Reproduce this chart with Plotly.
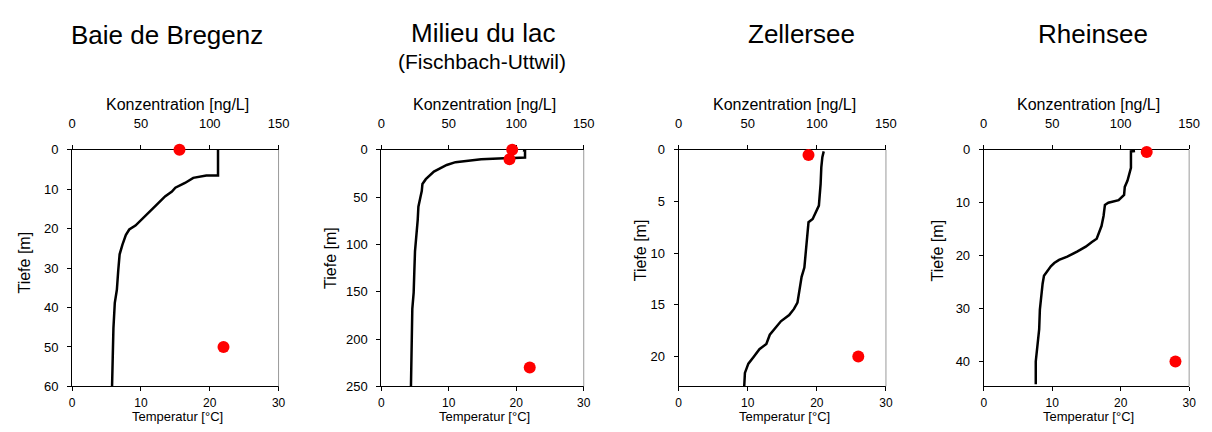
import plotly.graph_objects as go

# ---------------- data ----------------
panel_titles = ["Baie de Bregenz", "Milieu du lac", "Zellersee", "Rheinsee"]
subtitle_milieu = "(Fischbach-Uttwil)"

# temperature profiles (bottom axis, °C) vs depth (m)
bregenz_depth = [0, 6.5, 6.5, 7.1, 8.4, 9.6, 10.6, 11.8, 13.9, 15.9, 17.1, 19.2, 20.2, 21.6,
                 24.1, 26.5, 30.6, 35.5, 38.8, 45.3, 52.7, 60]
bregenz_temp = [21.2, 21.2, 19.5, 17.6, 16.4, 15.0, 14.5, 13.5, 12.3, 11.1, 10.4, 9.2, 8.3, 7.8,
                7.3, 6.9, 6.7, 6.5, 6.2, 6.0, 5.9, 5.8]

milieu_depth = [0.5, 1, 8, 9, 10, 13, 16, 23, 31, 36, 43.5, 50, 60, 74, 87, 107, 128, 151,
                168, 202, 250]
milieu_temp = [21.0, 21.3, 21.3, 18.3, 14.8, 11.0, 9.7, 7.8, 6.6, 6.1, 6.0, 5.8, 5.5, 5.4,
               5.2, 5.0, 4.9, 4.8, 4.6, 4.5, 4.4]

zeller_depth = [0.15, 0.7, 1.7, 3.3, 5.4, 6.1, 6.7, 7.0, 8.6, 9.8, 11.4, 12.3, 13.5, 14.8,
                15.4, 16.0, 16.6, 17.3, 17.9, 18.8, 19.3, 20.1, 20.7, 21.6, 22.9]
zeller_temp = [21.0, 20.8, 20.65, 20.55, 20.3, 19.8, 19.4, 18.8, 18.6, 18.4, 18.2, 17.8,
               17.5, 17.2, 16.7, 16.0, 14.8, 13.9, 13.2, 12.7, 11.7, 10.8, 10.1, 9.6, 9.5]

rhein_depth = [0.2, 0.3, 3.4, 4.6, 5.8, 7.0, 8.5, 9.5, 10.0, 10.4, 12.5, 14.4, 15.6, 16.8,
               17.4, 18.3, 19.2, 20.2, 20.8, 21.4, 22.0, 22.9, 23.8, 25.3, 27.8, 30.2, 33.9,
               36.3, 40, 44.3]
rhein_temp = [22.1, 21.5, 21.5, 21.3, 21.0, 20.6, 20.5, 19.7, 18.2, 17.7, 17.5, 17.2, 16.8,
              16.5, 15.8, 14.9, 13.7, 12.2, 11.0, 10.3, 9.8, 9.3, 8.8, 8.6, 8.4, 8.2, 8.1,
              7.9, 7.6, 7.6]

# concentrations (top axis, ng/L) vs sampling depth (m)
bregenz_conc_depth = [0, 50]
bregenz_conc = [78, 110]
milieu_conc_depth = [0, 10, 230]
milieu_conc = [97, 95, 110]
zeller_conc_depth = [0.5, 20]
zeller_conc = [94, 130]
rhein_conc_depth = [0.4, 40]
rhein_conc = [119, 140]

depth_max = [60, 250, 22.9, 44.7]
depth_ticks = [10, 50, 5, 10]
temp_ticks = [0, 10, 20, 30]
conc_ticks = [0, 50, 100, 150]

temps = [(bregenz_depth, bregenz_temp), (milieu_depth, milieu_temp),
         (zeller_depth, zeller_temp), (rhein_depth, rhein_temp)]
concs = [(bregenz_conc_depth, bregenz_conc), (milieu_conc_depth, milieu_conc),
         (zeller_conc_depth, zeller_conc), (rhein_conc_depth, rhein_conc)]

# ---------------- layout geometry (pixels) ----------------
W, H = 1212, 432
px_x = [(69, 278), (382, 587), (683, 893), (992, 1200)]
px_y = (148, 393)
FONT = "Liberation Sans, Arial, sans-serif"

def fx(p):
    return p / W

def fy(p):
    return 1 - p / H

fig = go.Figure()
layout = dict(
    width=W, height=H, margin=dict(l=0, r=0, t=0, b=0),
    paper_bgcolor="white", plot_bgcolor="white", showlegend=False,
    font=dict(family=FONT, color="black", size=13),
)

annotations = []
shapes = []
for i in range(4):
    n = i + 1
    xb = "x" if n == 1 else f"x{n}"
    xt = f"x{n + 4}"
    yn = "y" if n == 1 else f"y{n}"
    dom_x = [fx(px_x[i][0]), fx(px_x[i][1])]
    dom_y = [fy(px_y[1]), fy(px_y[0])]
    axis_common = dict(showgrid=False, zeroline=False, showline=True, linecolor="black",
                       linewidth=1, ticks="outside", ticklen=4, tickcolor="black",
                       tickfont=dict(family=FONT, size=13, color="black"),
                       layer="below traces")
    layout["xaxis" if n == 1 else f"xaxis{n}"] = dict(
        axis_common, domain=dom_x, anchor=yn, side="bottom", range=[0, 30],
        tickvals=temp_ticks, ticklabelstandoff=1,
        tickfont=dict(family=FONT, size=12, color="black"))
    layout[f"xaxis{n + 4}"] = dict(
        axis_common, domain=dom_x, anchor=yn, side="top", overlaying=xb,
        range=[0, 150], tickvals=conc_ticks, ticklabelstandoff=12)
    layout["yaxis" if n == 1 else f"yaxis{n}"] = dict(
        axis_common, domain=dom_y, anchor=xb, range=[depth_max[i], 0],
        dtick=depth_ticks[i], tick0=0, ticklabelstandoff=6)

    d, t = temps[i]
    fig.add_trace(go.Scatter(x=t, y=d, xaxis=xb, yaxis=yn, mode="lines",
                             line=dict(color="black", width=2.5), cliponaxis=False))
    cd, c = concs[i]
    fig.add_trace(go.Scatter(x=c, y=cd, xaxis=xt, yaxis=yn, mode="markers",
                             marker=dict(color="#ff0000", size=12), cliponaxis=False))

    # right border of plot area (grey)
    shapes.append(dict(type="line", xref="paper", yref="paper",
                       x0=dom_x[1], x1=dom_x[1], y0=dom_y[0], y1=dom_y[1],
                       line=dict(color="#9a9a9a", width=1)))

    cx = (px_x[i][0] + px_x[i][1]) / 2 + 2
    annotations.append(dict(text="Konzentration [ng/L]", x=fx(cx), y=fy(101.5),
                            xref="paper", yref="paper", showarrow=False,
                            xanchor="center", yanchor="middle",
                            font=dict(family=FONT, size=16)))
    annotations.append(dict(text="Temperatur [°C]", x=fx(cx), y=fy(432),
                            xref="paper", yref="paper", showarrow=False,
                            xanchor="center", yanchor="bottom", yshift=-2,
                            font=dict(family=FONT, size=13)))

tiefe_x = [21, 331, 644, 945]
tiefe_y = [265, 260, 252, 252]
for i in range(4):
    annotations.append(dict(text="Tiefe [m]", x=fx(tiefe_x[i]), y=fy(tiefe_y[i]),
                            xref="paper", yref="paper", showarrow=False, textangle=-90,
                            xanchor="center", yanchor="middle",
                            font=dict(family=FONT, size=16)))

title_pos = [(165, 29), (486, 27), (807, 28), (1103, 28)]
for i, title in enumerate(panel_titles):
    annotations.append(dict(text=title, x=fx(title_pos[i][0]), y=fy(title_pos[i][1]),
                            xref="paper", yref="paper", showarrow=False,
                            xanchor="center", yanchor="middle",
                            font=dict(family=FONT, size=26)))
annotations.append(dict(text=subtitle_milieu, x=fx(484), y=fy(56), xref="paper",
                        yref="paper", showarrow=False, xanchor="center",
                        yanchor="middle", font=dict(family=FONT, size=21)))

layout["annotations"] = annotations
layout["shapes"] = shapes
fig.update_layout(**layout)
fig.write_html("out.html")
